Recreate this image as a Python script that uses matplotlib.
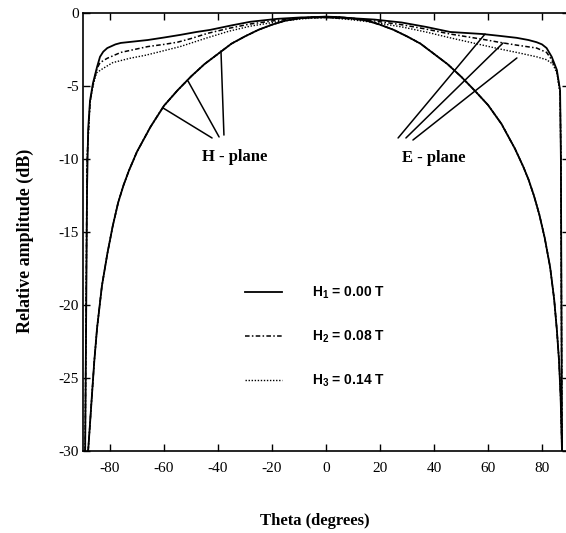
import numpy as np
import matplotlib
matplotlib.use("Agg")
import matplotlib.pyplot as plt

plt.rcParams["font.family"] = ["Liberation Serif", "DejaVu Serif"]
plt.rcParams["axes.unicode_minus"] = False
plt.rcParams["mathtext.fontset"] = "custom"
plt.rcParams["mathtext.rm"] = "Liberation Sans"
plt.rcParams["mathtext.bf"] = "Liberation Sans:bold"

# H-plane pattern (same for all three fields)
h_theta = [-88.1, -87.5, -86.7, -85.8, -84.8, -83, -81, -79, -77, -75, -73, -70, -65, -60,
           -55, -50, -45, -40, -35, -30, -25, -20, -15, -10, -5, 0, 5, 10, 15, 20, 25,
           30, 35, 40, 45, 50, 55, 60, 65, 70, 73, 75, 77, 79, 81, 83, 84.5, 85.5,
           86.3, 86.9, 87.4]
h_db = [-30, -28.4, -26.2, -23.8, -21.6, -18.7, -16.5, -14.6, -13.0, -11.8, -10.8, -9.5,
        -7.8, -6.35, -5.3, -4.35, -3.5, -2.8, -2.1, -1.6, -1.15, -0.8, -0.52, -0.37,
        -0.28, -0.25, -0.28, -0.37, -0.52, -0.8, -1.15, -1.6, -2.1, -2.8, -3.5, -4.35,
        -5.3, -6.3, -7.6, -9.3, -10.5, -11.4, -12.5, -13.8, -15.4, -17.4, -19.6, -21.7,
        -23.8, -26.3, -30]

# E-plane patterns
e1_theta = [-89.2, -88.8, -88.5, -88.1, -87.4, -86.3, -84.8, -83.7, -82.5, -81, -78, -76,
            -71, -66, -60, -54, -48, -43, -35, -28, -18, -9, 0, 9, 18, 28, 37, 46, 52, 58,
            64, 70.6, 75, 78, 80, 81.7, 83.6, 85.5, 86.7, 87.0, 87.2, 87.4]
e1_db = [-30, -20, -12, -8, -6, -4.8, -3.7, -3.0, -2.65, -2.4, -2.15, -2.05,
         -1.95, -1.85, -1.68, -1.5, -1.3, -1.16, -0.85, -0.6, -0.4, -0.3, -0.3, -0.35, -0.45,
         -0.65, -0.95, -1.3, -1.37, -1.44, -1.56, -1.7, -1.85, -2.0, -2.15, -2.4, -3.0, -3.9,
         -5.3, -10, -20, -30]

e2_theta = [-89.2, -88.5, -87.4, -86.3, -84.8, -83.7, -81, -76, -71, -66, -60, -55, -50,
            -44, -36, -28, -18, -9, 0, 9, 18, 28, 37, 46, 52, 58, 64, 70.6, 78, 81.7,
            83.6, 85.5, 86.7, 87.0, 87.2, 87.4]
e2_db = [-30, -10, -6.1, -4.9, -3.8, -3.4, -3.1, -2.7, -2.5, -2.3, -2.15, -2.0, -1.75,
         -1.4, -1.05, -0.75, -0.5, -0.35, -0.3, -0.4, -0.55, -0.8, -1.1, -1.44, -1.62, -1.8,
         -2.0, -2.2, -2.4, -2.7, -3.2, -4.0, -5.4, -10, -20, -30]

e3_theta = [-89.2, -88.5, -87.4, -86.3, -85.0, -82.6, -79, -72.6, -67, -62.6, -54, -44,
            -36, -28, -18, -9, 0, 9, 18, 28, 37, 46, 52, 58, 64, 70.6, 78, 81.7, 84,
            85.5, 86.7, 87.0, 87.2, 87.4]
e3_db = [-30, -10, -6.2, -5.0, -4.1, -3.8, -3.4, -3.1, -2.9, -2.7, -2.3, -1.7,
         -1.25, -0.9, -0.6, -0.4, -0.3, -0.45, -0.65, -0.95, -1.3, -1.7, -1.95, -2.2,
         -2.45, -2.7, -3.0, -3.2, -3.5, -4.1, -5.5, -10, -20, -30]

labels = [r"H$_{\mathbf{1}}$ = 0.00 T", r"H$_{\mathbf{2}}$ = 0.08 T", r"H$_{\mathbf{3}}$ = 0.14 T"]
styles = ["-", (0, (3, 1.5, 1, 1.5)), (0, (1, 1.2))]
widths = [1.3, 1.1, 1.0]

x_ticks = [-80, -60, -40, -20, 0, 20, 40, 60, 80]
y_ticks = [0, -5, -10, -15, -20, -25, -30]

fig = plt.figure(figsize=(5.66, 5.33), dpi=100)
ax = fig.add_axes([83 / 566, 82 / 533, 486 / 566, 438 / 533])

e_data = [(e1_theta, e1_db), (e2_theta, e2_db), (e3_theta, e3_db)]
for (et, ed), ls, lw, lab in zip(e_data, styles, widths, labels):
    ax.plot(et, ed, color="black", linestyle=ls, linewidth=lw, label=lab)
    ax.plot(h_theta, h_db, color="black", linestyle=ls, linewidth=lw)

ax.set_xlim(-90, 90)
ax.set_ylim(-30, 0)
ax.set_xticks(x_ticks)
ax.set_yticks(y_ticks)
ax.tick_params(direction="in", length=5, width=1, top=True, right=True,
               labelsize=11, pad=5)
ax.tick_params(axis="y", pad=3)
ax.tick_params(axis="x", pad=8)
for s in ax.spines.values():
    s.set_linewidth(1.2)

ax.set_xlabel("Theta (degrees)", fontsize=12, fontweight="bold")
ax.xaxis.set_label_coords((315 - 83) / 486, -(513 - 451) / 438)
ax.set_ylabel("Relative amplitude (dB)", fontsize=13, fontweight="bold")
ax.yaxis.set_label_coords(-(83 - 34) / 486, 0.48)

# annotations
ax.text(-34, -9.85, "H - plane", fontsize=12, fontweight="bold", ha="center", va="center")
ax.text(40, -9.95, "E - plane", fontsize=12, fontweight="bold", ha="center", va="center")
h_lines = [((-42.2, -8.56), (-60.4, -6.5)), ((-39.6, -8.49), (-51.1, -4.66)),
           ((-37.8, -8.36), (-38.9, -2.6))]
e_lines = [((26.7, -8.56), (58.9, -1.44)), ((29.6, -8.56), (65.6, -2.05)),
           ((32.2, -8.7), (70.7, -3.08))]
for a, b in h_lines + e_lines:
    ax.annotate("", xy=b, xytext=a,
                arrowprops=dict(arrowstyle="-", color="black", lw=1.1,
                                shrinkA=0, shrinkB=0))

leg = ax.legend(loc="upper left", bbox_to_anchor=(0.333, 0.38), frameon=False,
                handlelength=2.7, handletextpad=2.1, labelspacing=2.0,
                borderpad=0, borderaxespad=0,
                prop={"family": "Liberation Sans", "weight": "bold", "size": 10})

fig.savefig("out.png", dpi=100)
